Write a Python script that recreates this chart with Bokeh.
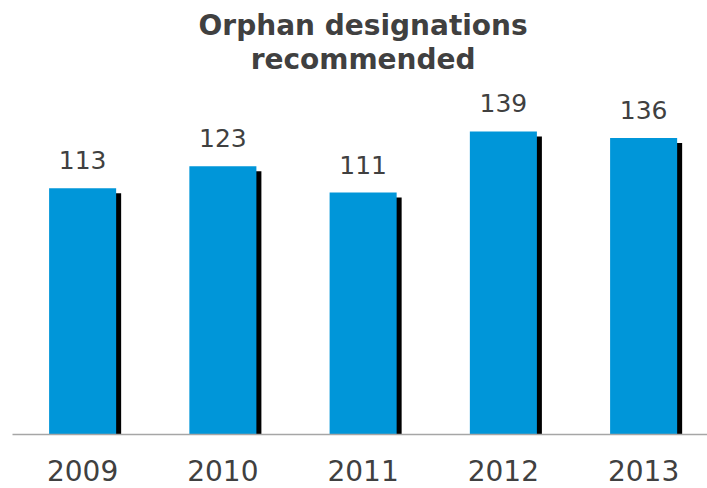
from bokeh.plotting import figure
from bokeh.models import Range1d, Label, ColumnDataSource, FixedTicker
from bokeh.core.properties import value
from bokeh.embed import file_html
from bokeh.resources import INLINE

years = ["2009", "2010", "2011", "2012", "2013"]
counts = [113, 123, 111, 139, 136]
title_lines = ["Orphan designations", "recommended"]

BLUE = "#0096D9"
TEXT = "#404040"
FONT = "DejaVu Sans"

xs = list(range(len(years)))
px_per_x = 140.25
px_per_y = 2.18
dx = 5 / px_per_x
dy = 5 / px_per_y

src = ColumnDataSource(dict(
    x=xs,
    top=counts,
    sx=[x + dx for x in xs],
    stop=[c - dy for c in counts],
    lab=[str(c) for c in counts],
))

p = figure(width=707, height=488, output_backend="svg", toolbar_location=None,
           x_range=Range1d(-0.5, -0.5 + 695 / px_per_x),
           y_range=Range1d(0, 426 / px_per_y),
           min_border_left=12, min_border_right=0, min_border_top=8,
           min_border_bottom=54, y_axis_location=None)
p.outline_line_color = None
p.xgrid.visible = False
p.ygrid.visible = False
p.background_fill_color = "white"
p.border_fill_color = "white"

p.vbar(x="sx", top="stop", bottom=0, width=0.478, source=src,
       fill_color="black", line_color=None)
p.vbar(x="x", top="top", bottom=0, width=0.478, source=src,
       fill_color=BLUE, line_color=None)

p.text(x="x", y="top", text="lab", source=src, text_align="center",
       text_baseline="alphabetic", y_offset=-28,
       text_font=value(FONT), text_font_size="25px", text_color=TEXT)

ax = p.xaxis[0]
ax.ticker = FixedTicker(ticks=xs)
ax.major_label_overrides = {i: y for i, y in zip(xs, years)}
ax.axis_line_color = "#A6A6A6"
ax.axis_line_width = 1.3
ax.major_tick_line_color = None
ax.minor_tick_line_color = None
ax.major_label_text_font = FONT
ax.major_label_text_font_size = "28px"
ax.major_label_text_color = TEXT
ax.major_label_standoff = 19

center_x = (len(years) - 1) / 2
for line, ypx in zip(title_lines, [409, 375]):
    p.add_layout(Label(x=center_x, y=ypx / px_per_y, text=line,
                       text_align="center", text_baseline="alphabetic",
                       text_font=FONT, text_font_style="bold",
                       text_font_size="28px", text_color=TEXT))

open("out.html", "w").write(file_html(p, INLINE))
